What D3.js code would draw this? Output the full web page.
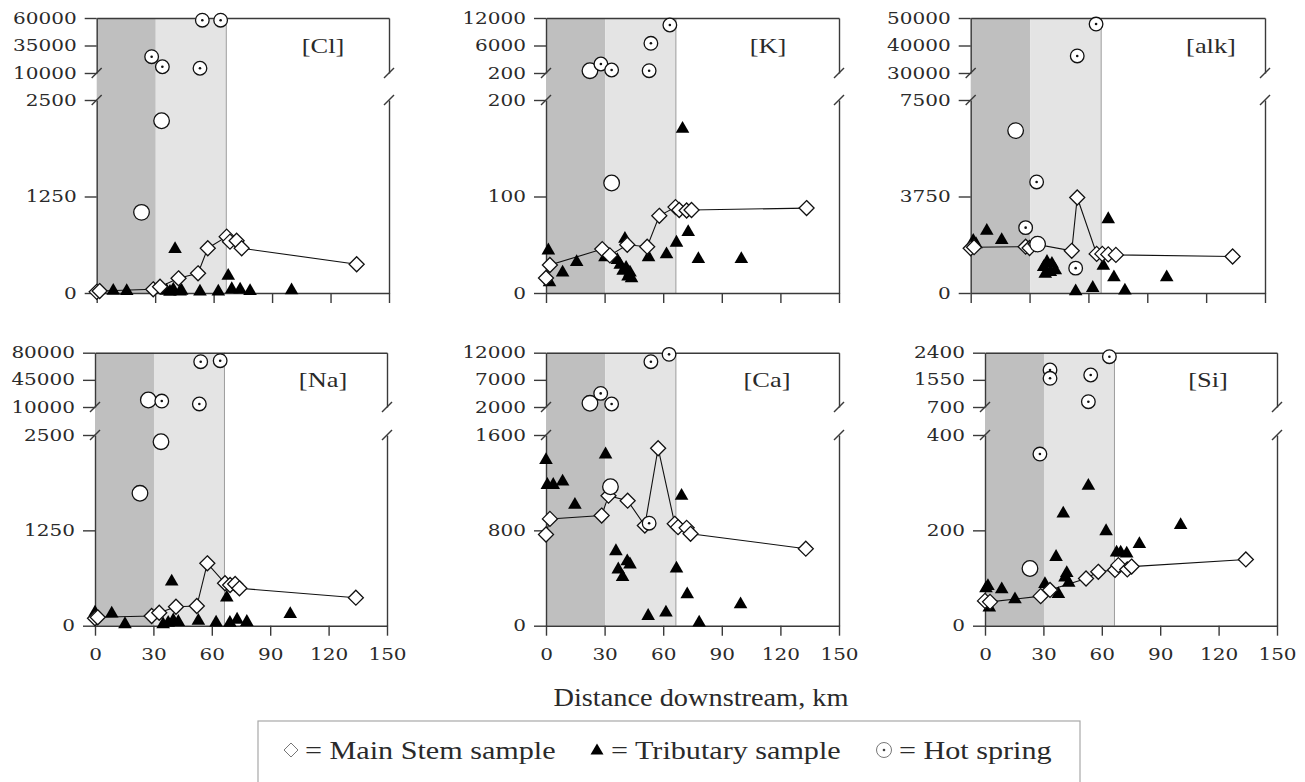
<!DOCTYPE html>
<html>
<head>
<meta charset="UTF-8">
<title>Concentrations vs distance downstream</title>
<script src="https://d3js.org/d3.v7.min.js"></script>
<style>
  body { margin: 0; background: #fff; }
</style>
</head>
<body>
<div id="chart"></div>
<script>
// distance downstream (km) axis ticks and the shaded reaches
const xTicks = [0, 30, 60, 90, 120, 150];
const zones = [[0, 30.3], [30.3, 66.5]];

// every series: [distance km, concentration]
const clMain = [[0, 15], [1.5, 25], [29, 48], [32.5, 82], [42, 190], [52, 255], [57, 580], [66.7, 730], [68.4, 665], [71.8, 677], [74.4, 580], [133.4, 372]];
const clTrib = [[8.5, 40], [15.4, 35], [35.9, 40], [37.6, 25], [39.3, 55], [40.2, 580], [42.8, 30], [43.6, 40], [53, 30], [62.4, 30], [67.5, 233], [69.3, 60], [73.6, 55], [78.7, 35], [100, 45]];
const clHot = [[28.2, 24800], [33.7, 15700], [53, 14300], [54.2, 58000], [63.6, 58000]];
const clHotOpen = [[23, 1045], [33.3, 2231]];

const kMain = [[0, 15.5], [2, 29], [28.8, 45.5], [32.7, 39], [41.6, 50], [51.8, 48], [58, 80], [66.3, 89], [68.2, 86], [72, 85.5], [74.5, 86], [133.4, 88]];
const kTrib = [[1.2, 45], [1.8, 12], [8.5, 22], [15.7, 33], [30.2, 38], [36.5, 35], [38, 30], [39.5, 24], [40.4, 57], [41, 27], [42, 18], [43, 22], [43.8, 16], [52.5, 38], [61.7, 41], [66.8, 53], [69.9, 171], [72.8, 64], [78, 36], [100, 36]];
const kHot = [[28.1, 2100], [33.6, 830], [52.8, 685], [53.7, 6480], [63.4, 10470]];
const kHotOpen = [[22.5, 680], [33.6, 114]];

const alkMain = [[0, 1740], [1.7, 1780], [28, 1800], [30, 1750], [33, 1900], [51.5, 1640], [54.3, 3710], [64.2, 1520], [67.1, 1520], [70.1, 1500], [74, 1480], [133.5, 1420]];
const alkTrib = [[1.3, 2060], [2.7, 1930], [8.2, 2450], [15.8, 2090], [37.2, 1040], [38, 780], [38.9, 1240], [40.6, 850], [41.4, 1170], [43.1, 920], [53.5, 100], [62.2, 230], [67.6, 1090], [70.1, 2900], [73, 640], [78.6, 130], [99.9, 640]];
const alkHot = [[28, 2540], [33.6, 4315], [53.5, 966], [54.3, 36200], [63.9, 47800]];
const alkHotOpen = [[22.9, 6310], [34.1, 1900]];

const naMain = [[0, 97], [1.4, 110], [29.1, 127], [33, 170], [41.6, 249], [52.3, 258], [57.7, 818], [66.8, 556], [69.4, 534], [72, 547], [74.2, 490], [134, 367]];
const naTrib = [[0, 183], [8.6, 170], [15.4, 31], [35, 30], [37.6, 50], [39.4, 590], [40.2, 80], [42.8, 60], [53.1, 75], [62.2, 52], [67.7, 380], [69.3, 50], [73, 90], [78, 60], [100.3, 163]];
const naHot = [[34.3, 17700], [53.6, 13900], [54.3, 68400], [64.3, 69700]];
const naHotOpen = [[27.4, 19000], [23.1, 1736], [33.9, 2412]];

const caMain = [[0, 765], [2, 896], [28.5, 924], [32, 1091], [41.8, 1049], [50.6, 840], [57.4, 1489], [65.9, 855], [67.6, 827], [72, 821], [74, 771], [133, 646]];
const caTrib = [[0, 1397], [0.7, 1188], [3.7, 1188], [8.5, 1216], [14.8, 1021], [30.5, 1444], [35.8, 632], [37, 479], [39.2, 415], [41.6, 548], [43, 521], [52.3, 89], [61.4, 117], [66.8, 487], [69.4, 1097], [72.3, 270], [78.4, 33], [99.6, 187]];
const caHot = [[28, 4500], [33.6, 2550], [52.8, 860], [53.7, 10340], [63, 11700]];
const caHotOpen = [[22.5, 2680], [33, 1166]];

const siMain = [[0, 52], [2.6, 50], [28.6, 62], [33.4, 75], [51.9, 99], [58.2, 113], [66.8, 117], [68.5, 127], [73.1, 118], [75.3, 124], [134, 139]];
const siTrib = [[0.5, 80], [1.5, 85], [2.2, 40], [8.6, 78], [15.4, 57], [30.8, 89], [36.5, 146], [37.7, 68], [40.2, 237], [41.1, 103], [42, 112], [43, 92], [53.1, 295], [62.2, 200], [67.6, 155], [69.7, 155], [72.8, 153], [79.3, 173], [100.5, 213]];
const siHot = [[28.2, 360], [33.4, 1858], [33.4, 1598], [53.1, 866], [54.3, 1702], [63.9, 2275]];
const siHotOpen = [[23.1, 120]];

// y axis tick labels: lower segment and upper (broken) segment
const clTicks = [[0, 1250, 2500], [10000, 35000, 60000]];
const kTicks = [[0, 100, 200], [200, 6000, 12000]];
const alkTicks = [[0, 3750, 7500], [30000, 40000, 50000]];
const naTicks = [[0, 1250, 2500], [10000, 45000, 80000]];
const caTicks = [[0, 800, 1600], [2000, 7000, 12000]];
const siTicks = [[0, 200, 400], [700, 1550, 2400]];

const panelNames = ["[Cl]", "[K]", "[alk]", "[Na]", "[Ca]", "[Si]"];
const legendLabels = ["= Main Stem sample", "= Tributary sample", "= Hot spring"];

const W = 1305, H = 782;
const rows = [
  { top: 18, brk: 73, resume: 100, base: 293 },
  { top: 352.7, brk: 407, resume: 435, base: 625.7 }
];
const panels = [
  { main: clMain, trib: clTrib, hot: clHot, hotOpen: clHotOpen, ticks: clTicks, row: 0, left: 96.7, right: 389, lx: 323 },
  { main: kMain, trib: kTrib, hot: kHot, hotOpen: kHotOpen, ticks: kTicks, row: 0, left: 546, right: 839, lx: 768 },
  { main: alkMain, trib: alkTrib, hot: alkHot, hotOpen: alkHotOpen, ticks: alkTicks, row: 0, left: 970.7, right: 1265, lx: 1211 },
  { main: naMain, trib: naTrib, hot: naHot, hotOpen: naHotOpen, ticks: naTicks, row: 1, left: 95, right: 387, lx: 323 },
  { main: caMain, trib: caTrib, hot: caHot, hotOpen: caHotOpen, ticks: caTicks, row: 1, left: 546, right: 839, lx: 767 },
  { main: siMain, trib: siTrib, hot: siHot, hotOpen: siHotOpen, ticks: siTicks, row: 1, left: 985, right: 1277, lx: 1208 }
];

const svg = d3.select("#chart").append("svg")
  .attr("width", W).attr("height", H)
  .style("background", "#fff");

const ink = "#2a2a2a";
const tickFont = "'DejaVu Serif', serif";
const textFont = "'Liberation Serif', 'Times New Roman', serif";

const diamond = "M0,-7.5L7.5,0L0,7.5L-7.5,0Z";
const triangle = "M0,-7L6.8,4.8L-6.8,4.8Z";

function styleAxis(g, size) {
  g.selectAll("path.domain").attr("stroke", "#3a3a3a").attr("stroke-width", 1.4);
  g.selectAll(".tick line").attr("stroke", "#3a3a3a").attr("stroke-width", 1.4);
  g.selectAll(".tick text")
    .attr("fill", ink)
    .style("font-family", tickFont)
    .style("font-size", size + "px");
}

panels.forEach((p, i) => {
  const r = rows[p.row];
  const g = svg.append("g");

  const x = d3.scaleLinear().domain([0, 150]).range([p.left, p.right]);
  const lowMax = p.ticks[0][2];
  const yLow = d3.scaleLinear().domain([0, lowMax]).range([r.base, r.resume]);
  const yHigh = d3.scaleLinear().domain(p.ticks[1]).range([r.brk, (r.brk + r.top) / 2, r.top]);
  const y = v => v <= lowMax ? yLow(v) : yHigh(v);

  // shaded reaches
  g.selectAll("rect.zone").data(zones).enter().append("rect")
    .attr("x", d => x(d[0]))
    .attr("y", r.top)
    .attr("width", d => x(d[1]) - x(d[0]))
    .attr("height", r.base - r.top)
    .attr("fill", (d, k) => k === 0 ? "#bfbfbf" : "#e4e4e4");
  g.append("line")
    .attr("x1", x(zones[1][1])).attr("x2", x(zones[1][1]))
    .attr("y1", r.top).attr("y2", r.base)
    .attr("stroke", "#9c9c9c").attr("stroke-width", 1);

  // axes
  const xAxis = d3.axisBottom(x).tickValues(xTicks).tickSize(10).tickSizeOuter(0).tickPadding(13);
  if (p.row === 0) xAxis.tickFormat("");
  const gx = g.append("g").attr("transform", `translate(0,${r.base})`).call(xAxis);
  styleAxis(gx, 16);
  gx.selectAll(".tick text").attr("transform", "scale(1.25,1)");

  const gTop = g.append("g").attr("transform", `translate(0,${r.top})`)
    .call(d3.axisTop(x).tickValues([]).tickSizeOuter(0));
  styleAxis(gTop, 16);

  [[yLow, p.ticks[0]], [yHigh, p.ticks[1]]].forEach(([sc, tv]) => {
    const gl = g.append("g").attr("transform", `translate(${p.left},0)`)
      .call(d3.axisLeft(sc).tickValues(tv).tickSize(12).tickSizeOuter(0).tickPadding(4).tickFormat(d3.format("d")));
    styleAxis(gl, 16);
    gl.selectAll(".tick text").attr("transform", "scale(1.25,1)");
    const gr = g.append("g").attr("transform", `translate(${p.right},0)`)
      .call(d3.axisRight(sc).tickValues([]).tickSizeOuter(0));
    styleAxis(gr, 16);
  });

  // break marks
  [p.left, p.right].forEach(xx => {
    [r.brk, r.resume].forEach(yy => {
      g.append("line")
        .attr("x1", xx - 5).attr("y1", yy + 5)
        .attr("x2", xx + 5).attr("y2", yy - 5)
        .attr("stroke", "#3a3a3a").attr("stroke-width", 1.4);
    });
  });

  // main stem line
  const line = d3.line().x(d => x(d[0])).y(d => y(d[1]));
  g.append("path").datum(p.main)
    .attr("d", line)
    .attr("fill", "none").attr("stroke", "#111").attr("stroke-width", 1.1);

  // tributaries
  g.selectAll("path.trib").data(p.trib).enter().append("path")
    .attr("class", "trib")
    .attr("d", triangle)
    .attr("transform", d => `translate(${x(d[0])},${y(d[1])})`)
    .attr("fill", "#000");

  // main stem samples
  g.selectAll("path.main").data(p.main).enter().append("path")
    .attr("class", "main")
    .attr("d", diamond)
    .attr("transform", d => `translate(${x(d[0])},${y(d[1])})`)
    .attr("fill", "#fff").attr("stroke", "#111").attr("stroke-width", 1.3);

  // hot springs
  g.selectAll("circle.open").data(p.hotOpen).enter().append("circle")
    .attr("class", "open")
    .attr("cx", d => x(d[0])).attr("cy", d => y(d[1])).attr("r", 7.8)
    .attr("fill", "#fff").attr("stroke", "#111").attr("stroke-width", 1.3);
  const hs = g.selectAll("g.hot").data(p.hot).enter().append("g")
    .attr("class", "hot")
    .attr("transform", d => `translate(${x(d[0])},${y(d[1])})`);
  hs.append("circle").attr("r", 6.8)
    .attr("fill", "#fff").attr("stroke", "#111").attr("stroke-width", 1.3);
  hs.append("circle").attr("r", 1.3).attr("fill", "#111");

  // panel label
  g.append("text")
    .attr("transform", `translate(${p.lx},${(r.top + r.brk) / 2 + 7}) scale(1.2,1)`)
    .attr("text-anchor", "middle")
    .style("font-family", textFont).style("font-size", "22px")
    .attr("fill", ink)
    .text(panelNames[i]);
});

// x axis title
svg.append("text")
  .attr("transform", "translate(701,706) scale(1.09,1)")
  .attr("text-anchor", "middle")
  .style("font-family", textFont).style("font-size", "26px")
  .attr("fill", ink)
  .text("Distance downstream, km");

// legend
svg.append("rect")
  .attr("x", 258).attr("y", 721).attr("width", 822).attr("height", 90)
  .attr("fill", "none").attr("stroke", "#a8a8a8").attr("stroke-width", 1.2);

const ly = 750;
const lg = svg.append("g");
lg.append("path").attr("d", "M0,-7L7,0L0,7L-7,0Z")
  .attr("transform", `translate(291,${ly})`)
  .attr("fill", "#fff").attr("stroke", "#777").attr("stroke-width", 1);
lg.append("path").attr("d", "M0,-6.5L6.5,4.5L-6.5,4.5Z")
  .attr("transform", `translate(597,${ly})`)
  .attr("fill", "#000");
lg.append("circle").attr("cx", 884).attr("cy", ly).attr("r", 7.5)
  .attr("fill", "#fff").attr("stroke", "#777").attr("stroke-width", 1);
lg.append("circle").attr("cx", 884).attr("cy", ly).attr("r", 1.3).attr("fill", "#444");

[[legendLabels[0], 305], [legendLabels[1], 611], [legendLabels[2], 899]].forEach(([t, lx]) => {
  lg.append("text")
    .attr("transform", `translate(${lx},${ly + 8.5}) scale(1.16,1)`)
    .style("font-family", textFont).style("font-size", "26px")
    .attr("fill", ink)
    .text(t);
});
</script>
</body>
</html>
